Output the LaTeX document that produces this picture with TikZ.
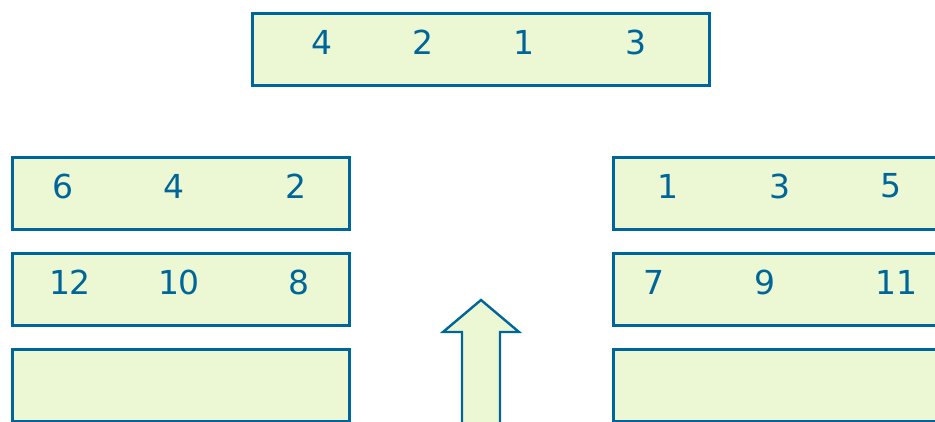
\documentclass[tikz,border=0pt]{standalone}
\usepackage{fontspec}
\setmainfont{DejaVu Sans}
\definecolor{strokeblue}{RGB}{0,102,153}
\definecolor{fillg}{RGB}{236,248,211}
\begin{document}
\begin{tikzpicture}[x=1pt,y=-1pt,
  box/.style={draw=strokeblue, fill=fillg, line width=2.6pt, rectangle, inner sep=0pt, anchor=north west},
  num/.style={text=strokeblue, font=\fontsize{33}{33}\selectfont, inner sep=0pt, anchor=center}]
\useasboundingbox (0,0) rectangle (935,421);
\clip (0,0) rectangle (935,421);
% top box
\node[box, minimum width=457pt, minimum height=72pt] (top) at (251,12) {};
\node[num] (t1) at (322,42) {4};
\node[num] (t2) at (423,42) {2};
\node[num] (t3) at (524,42) {1};
\node[num] (t4) at (636,42) {3};
% left boxes
\node[box, minimum width=337pt, minimum height=72pt] (l1) at (11,156) {};
\node[box, minimum width=337pt, minimum height=72pt] (l2) at (11,252) {};
\node[box, minimum width=337pt, minimum height=72pt] (l3) at (11,348) {};
\node[num] (l1a) at (63,186) {6};
\node[num] (l1b) at (174,186) {4};
\node[num] (l1c) at (296,186) {2};
\node[num] (l2a) at (70,282) {12};
\node[num] (l2b) at (179,282) {10};
\node[num] (l2c) at (299,282) {8};
% right boxes
\node[box, minimum width=400pt, minimum height=72pt] (r1) at (612,156) {};
\node[box, minimum width=400pt, minimum height=72pt] (r2) at (612,252) {};
\node[box, minimum width=400pt, minimum height=72pt] (r3) at (612,348) {};
\node[num] (r1a) at (668,186) {1};
\node[num] (r1b) at (780,186) {3};
\node[num] (r1c) at (891,186) {5};
\node[num] (r2a) at (654,282) {7};
\node[num] (r2b) at (765,282) {9};
\node[num] (r2c) at (896,282) {11};
% arrow
\fill[fillg] (462,430) -- (462,332) -- (443,332) -- (481,300) -- (519,332) -- (500,332) -- (500,430) -- cycle;
\draw[strokeblue, line width=2.4pt, line join=miter] (462,430) -- (462,332) -- (443,332) -- (481,300) -- (519,332) -- (500,332) -- (500,430);
\end{tikzpicture}
\end{document}
